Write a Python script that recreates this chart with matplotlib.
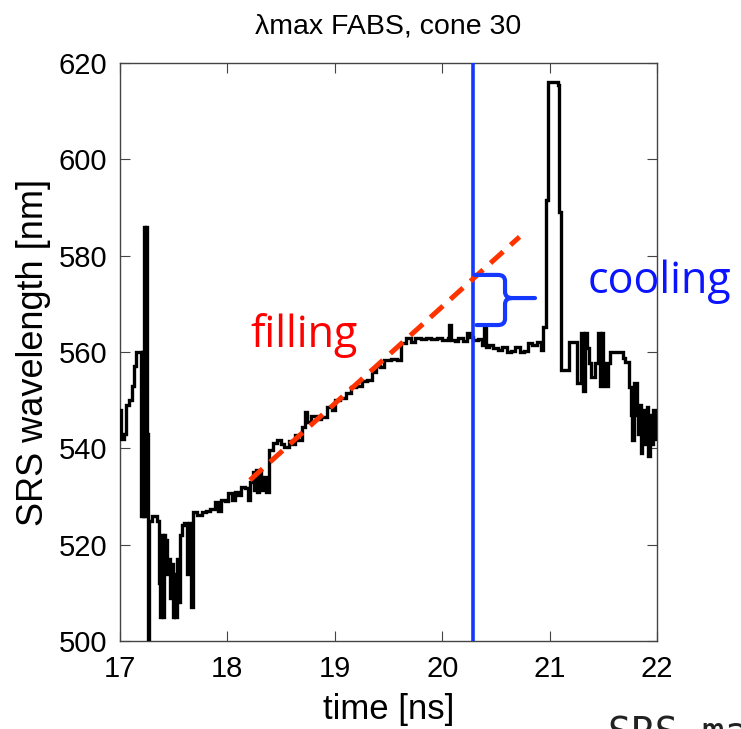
import matplotlib
matplotlib.use("Agg")
import matplotlib.pyplot as plt
from matplotlib.path import Path
from matplotlib.patches import PathPatch

# ---------------- data ----------------
time_ns = [
    17.000, 17.009, 17.040, 17.060, 17.085, 17.110, 17.130, 17.150, 17.175, 17.195,
    17.205, 17.215, 17.225, 17.235, 17.245, 17.255, 17.262, 17.272, 17.300, 17.340,
    17.365, 17.375, 17.385, 17.400, 17.410, 17.420, 17.440, 17.455, 17.465, 17.480,
    17.490, 17.505, 17.515, 17.530, 17.545, 17.560, 17.575, 17.600, 17.620, 17.640,
    17.660, 17.680, 17.720, 17.760, 17.800, 17.840, 17.880, 17.910, 17.940, 17.980,
    18.010, 18.040, 18.070, 18.100, 18.130, 18.160, 18.190, 18.215, 18.235, 18.250,
    18.265, 18.280, 18.295, 18.310, 18.330, 18.360, 18.385, 18.420, 18.460, 18.500,
    18.530, 18.570, 18.600, 18.630, 18.660, 18.690, 18.720, 18.740, 18.780, 18.830,
    18.870, 18.930, 18.970, 19.000, 19.050, 19.100, 19.150, 19.200, 19.250, 19.300,
    19.350, 19.380, 19.420, 19.460, 19.520, 19.580, 19.620, 19.660, 19.710, 19.750,
    19.800, 19.850, 19.900, 19.950, 20.000, 20.050, 20.065, 20.080, 20.120, 20.150,
    20.190, 20.230, 20.260, 20.290, 20.330, 20.370, 20.385, 20.405, 20.440, 20.470,
    20.520, 20.560, 20.600, 20.640, 20.680, 20.720, 20.760, 20.800, 20.840, 20.880,
    20.920, 20.940, 20.965, 20.985, 21.080, 21.090, 21.105, 21.170, 21.180, 21.240,
    21.255, 21.280, 21.295, 21.310, 21.330, 21.345, 21.370, 21.390, 21.420, 21.455,
    21.470, 21.490, 21.500, 21.520, 21.540, 21.560, 21.600, 21.640, 21.680, 21.700,
    21.740, 21.755, 21.770, 21.790, 21.810, 21.825, 21.840, 21.850, 21.860, 21.875,
    21.890, 21.905, 21.920, 21.935, 21.950, 21.965, 21.980, 21.990, 22.000,
]
srs_nm = [
    548.0, 542.0, 543.0, 549.0, 550.0, 553.0, 557.0, 560.0, 560.0, 526.0,
    560.0, 526.0, 586.0, 526.0, 586.0, 543.0, 498.0, 525.0, 526.0, 525.0,
    512.0, 505.0, 522.0, 505.0, 522.0, 521.0, 514.0, 517.0, 509.0, 516.0,
    505.0, 514.0, 505.0, 517.0, 508.0, 522.0, 524.0, 524.5, 514.0, 524.5,
    507.0, 526.8, 526.2, 526.8, 527.0, 527.5, 528.9, 527.0, 529.3, 529.0,
    530.7, 529.3, 531.0, 530.3, 532.0, 531.8, 529.3, 533.0, 535.0, 531.3,
    535.5, 531.0, 535.0, 531.3, 534.0, 531.0, 539.6, 541.1, 541.8, 541.0,
    540.3, 541.5, 540.8, 542.8, 541.8, 544.5, 547.5, 545.5, 546.8, 546.0,
    546.5, 548.6, 548.0, 550.0, 550.5, 551.5, 552.7, 553.0, 554.0, 554.2,
    555.8, 557.0, 556.9, 558.3, 558.5, 558.3, 561.9, 562.9, 562.0, 563.0,
    562.8, 563.0, 562.6, 563.0, 562.5, 563.0, 565.6, 562.4, 562.2, 563.0,
    562.3, 564.0, 563.1, 562.5, 562.7, 561.5, 565.0, 561.0, 561.4, 560.8,
    560.5, 561.0, 560.0, 560.3, 561.0, 560.0, 560.2, 561.9, 561.5, 562.0,
    560.4, 565.2, 591.5, 616.0, 615.5, 589.0, 556.3, 556.3, 562.0, 562.0,
    553.5, 553.5, 564.0, 552.0, 564.0, 560.8, 557.7, 554.8, 557.7, 564.0,
    553.0, 564.0, 557.7, 553.0, 557.7, 560.0, 560.0, 560.0, 558.7, 558.0,
    552.7, 547.0, 541.7, 553.5, 547.0, 543.0, 549.0, 539.0, 548.0, 544.0,
    541.0, 548.5, 538.5, 547.0, 541.0, 548.0, 542.0, 545.0, 545.0,
]

title_text = "\u03bbmax FABS, cone 30"
xlabel_text = "time [ns]"
ylabel_text = "SRS wavelength [nm]"
x_ticks = [17, 18, 19, 20, 21, 22]
y_ticks = [500, 520, 540, 560, 580, 600, 620]

marker_time = 20.29                 # blue vertical line
fill_trend_t = [18.21, 20.72]       # red dashed trend
fill_trend_v = [533.4, 583.9]
brace_t = [20.30, 20.585, 20.864]   # left, spine, tip
brace_v = [576.0, 571.2, 565.6]     # top, cusp, bottom

# ---------------- figure ----------------
plt.rcParams['font.family'] = ['Liberation Sans', 'DejaVu Sans']
fig = plt.figure(figsize=(7.41, 7.29), dpi=100)
ax = fig.add_axes([120 / 741, 1 - 641 / 729, (657 - 120) / 741, (641 - 63) / 729])

ax.plot(time_ns, srs_nm, drawstyle='steps-post', color='black', lw=2.4,
        solid_joinstyle='miter', zorder=3)

ax.axvline(marker_time, color='#1538ff', lw=2.6, zorder=4)

ax.plot(fill_trend_t, fill_trend_v, color='#ff3300', lw=3.6,
        dashes=(3.4, 2.0), dash_capstyle='butt', zorder=5)

# curly brace
tl, ts, tt = brace_t
vt, vc, vb = brace_v
dt = 0.065
dv = 1.3
verts = [
    (tl, vt), (ts - dt, vt), (ts, vt), (ts, vt - dv),
    (ts, vc + dv), (ts, vc), (ts + dt, vc),
    (tt, vc),
    (ts + dt, vc), (ts, vc), (ts, vc - dv),
    (ts, vb + dv), (ts, vb), (ts - dt, vb),
    (tl + 0.02, vb),
]
codes = [
    Path.MOVETO, Path.LINETO, Path.CURVE3, Path.CURVE3,
    Path.LINETO, Path.CURVE3, Path.CURVE3,
    Path.LINETO,
    Path.MOVETO, Path.CURVE3, Path.CURVE3,
    Path.LINETO, Path.CURVE3, Path.CURVE3,
    Path.LINETO,
]
ax.add_patch(PathPatch(Path(verts, codes), fill=False, edgecolor='#1538ff',
                       lw=3.0, capstyle='round', joinstyle='round', zorder=6))

ax.text(18.21, 561.0, "filling", color='#ff0000', fontsize=31,
        family=['Open Sans', 'DejaVu Sans'], ha='left', va='baseline', zorder=7)
ax.text(21.35, 572.3, "cooling", color='#0a14ff', fontsize=31,
        family=['Open Sans', 'DejaVu Sans'], ha='left', va='baseline',
        clip_on=False, zorder=7)

ax.set_xlim(17, 22)
ax.set_ylim(500, 620)
ax.set_xticks(x_ticks)
ax.set_yticks(y_ticks)
ax.set_xticklabels([str(v) for v in x_ticks])
ax.set_yticklabels([str(v) for v in y_ticks])
ax.tick_params(direction='in', length=7, width=0.8, colors='#444444',
               labelcolor='black', labelsize=21, top=True, right=True)
ax.tick_params(axis='x', pad=10)
ax.tick_params(axis='y', pad=9)
for s in ax.spines.values():
    s.set_color('#444444')
    s.set_linewidth(1.0)

ax.set_title(title_text, fontsize=20.5, pad=21)
ax.set_xlabel(xlabel_text, fontsize=25, labelpad=7)
ax.set_ylabel(ylabel_text, fontsize=26, labelpad=6)

fig.text(608 / 741, 1 - 745 / 729, "SRS ma", family=['DejaVu Sans Mono'],
         fontsize=28, color='#222222', ha='left', va='baseline')

fig.savefig("out.png", dpi=100)
